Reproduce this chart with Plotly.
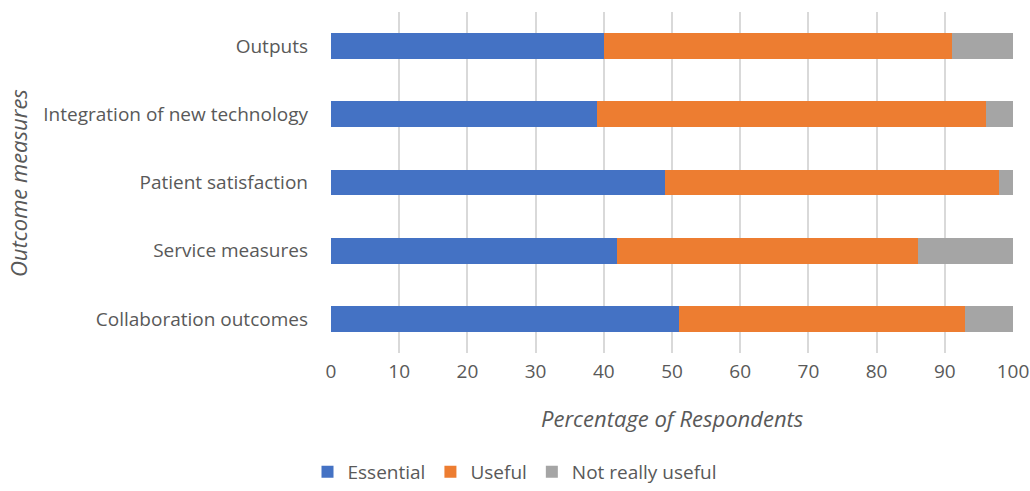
import plotly.graph_objects as go

categories = ["Collaboration outcomes", "Service measures", "Patient satisfaction",
              "Integration of new technology", "Outputs"]
essential = [51, 42, 49, 39, 40]
useful = [42, 44, 49, 57, 51]
not_useful = [7, 14, 2, 4, 9]
x_ticks = [0, 10, 20, 30, 40, 50, 60, 70, 80, 90, 100]

FONT = "Open Sans"
TXT = "#595959"
L, R, T, B = 331, 17, 12, 138
PW, PH = 1030 - L - R, 491 - T - B

fig = go.Figure()
fig.add_trace(go.Bar(y=categories, x=essential, name="Essential", orientation="h",
                     marker=dict(color="#4472C4", line=dict(width=0))))
fig.add_trace(go.Bar(y=categories, x=useful, name="Useful", orientation="h",
                     marker=dict(color="#ED7D31", line=dict(width=0))))
fig.add_trace(go.Bar(y=categories, x=not_useful, name="Not really useful", orientation="h",
                     marker=dict(color="#A5A5A5", line=dict(width=0))))

fig.update_layout(
    width=1030, height=491,
    barmode="stack", bargap=0.62,
    plot_bgcolor="white", paper_bgcolor="white",
    margin=dict(l=L, r=R, t=T, b=B),
    font=dict(family=FONT, size=19, color=TXT),
    xaxis=dict(range=[0, 100], tickvals=x_ticks, showgrid=True, gridcolor="#D9D9D9",
               gridwidth=2, zeroline=False, showline=False, ticks="", automargin=False,
               tickfont=dict(size=19, color=TXT), ticklabelstandoff=5),
    yaxis=dict(showgrid=False, zeroline=False, showline=False, ticks="", automargin=False,
               tickfont=dict(size=19, color=TXT), ticklabelstandoff=22),
    legend=dict(orientation="h", xref="container", yref="container", x=0.5, y=0.0,
                xanchor="center", yanchor="bottom", font=dict(size=19, color=TXT),
                traceorder="normal", itemwidth=30),
    showlegend=True,
    annotations=[
        dict(text="<i>Percentage of Respondents</i>", xref="paper", yref="paper",
             x=0.5, y=(491 - B - 418) / PH, xanchor="center", yanchor="middle", showarrow=False,
             font=dict(size=22, color=TXT)),
        dict(text="<i>Outcome measures</i>", xref="paper", yref="paper",
             x=(18 - L) / PW, y=(491 - B - 183) / PH, xanchor="center", yanchor="middle",
             textangle=-90, showarrow=False, font=dict(size=22, color=TXT)),
    ],
)

fig.write_html("out.html")
